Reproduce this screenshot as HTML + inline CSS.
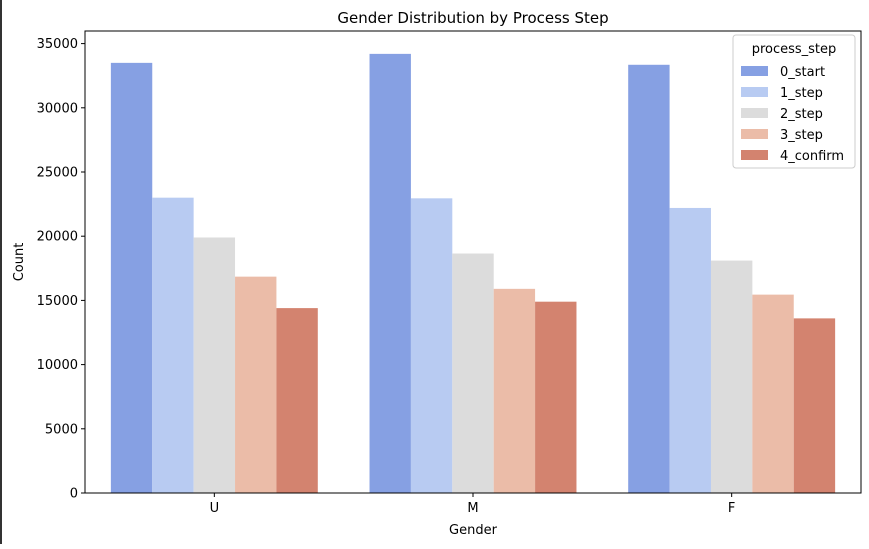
<!DOCTYPE html>
<html><head><meta charset="utf-8"><style>
body{margin:0;background:#fff;font-family:"Liberation Sans","DejaVu Sans",sans-serif;}
svg text{font-family:"DejaVu Sans","Liberation Sans",sans-serif;fill:#000;}
</style></head><body>
<svg id="chart" width="869" height="544" viewBox="0 0 869 544">
<rect x="0" y="0" width="2" height="544" fill="#333"/>
<text x="473" y="23" font-size="15" text-anchor="middle">Gender Distribution by Process Step</text>
<g id="bars"></g>
<g id="axes"></g>
<text x="473" y="534" font-size="13" text-anchor="middle">Gender</text>
<text transform="translate(23,262) rotate(-90)" font-size="13" text-anchor="middle">Count</text>
<g id="legend"></g>
</svg>
<script>
const categories=["U","M","F"];
const seriesNames=["0_start","1_step","2_step","3_step","4_confirm"];
const s0=[33500,34200,33350];
const s1=[23000,22950,22200];
const s2=[19900,18650,18100];
const s3=[16850,15900,15450];
const s4=[14400,14900,13600];
const yTicks=[0,5000,10000,15000,20000,25000,30000,35000];
const series=[s0,s1,s2,s3,s4];
const colors=["#86a0e3","#b8cbf2","#dcdcdc","#ebbca8","#d3836f"];
const NS="http://www.w3.org/2000/svg";
const L=85,R=861,T=31,B=493;
function xScale(i){return L+(i+0.5)*(R-L)/categories.length;}
function yScale(v){return B-v*(64.2/5000);}
const unit=(R-L)/categories.length, bw=unit*0.8/series.length;
const bars=document.getElementById('bars');
series.forEach((s,j)=>{s.forEach((v,i)=>{
 const r=document.createElementNS(NS,'rect');
 const x=xScale(i)-unit*0.4+j*bw;
 r.setAttribute('x',x);r.setAttribute('width',bw);
 r.setAttribute('y',yScale(v));r.setAttribute('height',B-yScale(v));
 r.setAttribute('fill',colors[j]);
 
 
 bars.appendChild(r);});});
const ax=document.getElementById('axes');
const frame=document.createElementNS(NS,'rect');
frame.setAttribute('x',L);frame.setAttribute('y',T);frame.setAttribute('width',R-L);frame.setAttribute('height',B-T);
frame.setAttribute('fill','none');frame.setAttribute('stroke','#000');frame.setAttribute('stroke-width','1');


ax.appendChild(frame);
yTicks.forEach(t=>{
 const y=yScale(t);
 const l=document.createElementNS(NS,'line');
 l.setAttribute('x1',L-4);l.setAttribute('x2',L);l.setAttribute('y1',y);l.setAttribute('y2',y);l.setAttribute('stroke','#000');
 
 
 ax.appendChild(l);
 const tx=document.createElementNS(NS,'text');
 tx.setAttribute('x',L-7);tx.setAttribute('y',y+4.5);tx.setAttribute('font-size','13');tx.setAttribute('text-anchor','end');
 tx.textContent=t;
 
 
 ax.appendChild(tx);});
categories.forEach((c,i)=>{
 const x=xScale(i);
 const l=document.createElementNS(NS,'line');
 l.setAttribute('x1',x);l.setAttribute('x2',x);l.setAttribute('y1',B);l.setAttribute('y2',B+4);l.setAttribute('stroke','#000');
 
 
 ax.appendChild(l);
 const tx=document.createElementNS(NS,'text');
 tx.setAttribute('x',x);tx.setAttribute('y',B+19);tx.setAttribute('font-size','13');tx.setAttribute('text-anchor','middle');
 tx.textContent=c;
 
 
 ax.appendChild(tx);});
const lg=document.getElementById('legend');
const box=document.createElementNS(NS,'rect');
box.setAttribute('x',733);box.setAttribute('y',35);box.setAttribute('width',122);box.setAttribute('height',133);box.setAttribute('rx',3);
box.setAttribute('fill','#fff');box.setAttribute('fill-opacity','0.8');box.setAttribute('stroke','#ccc');


lg.appendChild(box);
const lt=document.createElementNS(NS,'text');
lt.setAttribute('x',794);lt.setAttribute('y',53);lt.setAttribute('font-size','13');lt.setAttribute('text-anchor','middle');
lt.textContent='process_step';


lg.appendChild(lt);
seriesNames.forEach((n,j)=>{
 const y=71+j*21;
 const r=document.createElementNS(NS,'rect');
 r.setAttribute('x',741);r.setAttribute('y',y-5);r.setAttribute('width',27);r.setAttribute('height',10);r.setAttribute('fill',colors[j]);
 
 
 lg.appendChild(r);
 const t=document.createElementNS(NS,'text');
 t.setAttribute('x',780);t.setAttribute('y',y+5);t.setAttribute('font-size','13');
 t.textContent=n;
 
 
 lg.appendChild(t);});
</script>
</body></html>
